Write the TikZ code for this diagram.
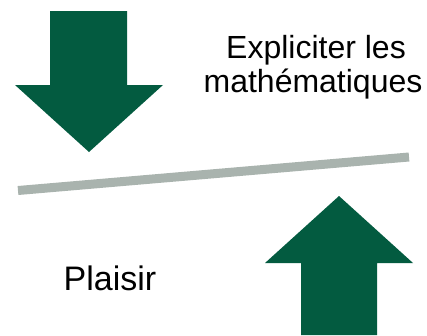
\documentclass[tikz,border=0pt]{standalone}
\usepackage{fontspec}
\setmainfont{Liberation Sans}
\definecolor{arrowgreen}{HTML}{035B40}
\definecolor{beamgray}{HTML}{A9B3AE}
\begin{document}
\begin{tikzpicture}[x=1pt,y=-1pt,
  bigarrow/.style={fill=arrowgreen,draw=none},
  lbl/.style={font=\fontsize{32}{34}\selectfont,align=center,inner sep=0pt}]
\useasboundingbox (0,0) rectangle (427,335);
% down arrow
\fill[bigarrow] (50,11) -- (127,11) -- (127,85) -- (163,85) -- (89,152) -- (15,85) -- (50,85) -- cycle;
% up arrow
\fill[bigarrow] (301,335) -- (377,335) -- (377,263) -- (413,263) -- (339,196) -- (265,263) -- (301,263) -- cycle;
% beam
\coordinate (bl) at (18,190.5);
\coordinate (br) at (409,157);
\draw[beamgray,line width=9pt] (bl) -- (br);
% texts
\node[lbl,anchor=base] (t1) at (316,58) {Expliciter les};
\node[lbl,anchor=base] (t2) at (313,92) {mathématiques};
\node[lbl,anchor=base,font=\fontsize{34}{36}\selectfont] (p) at (110,290) {Plaisir};
\end{tikzpicture}
\end{document}
